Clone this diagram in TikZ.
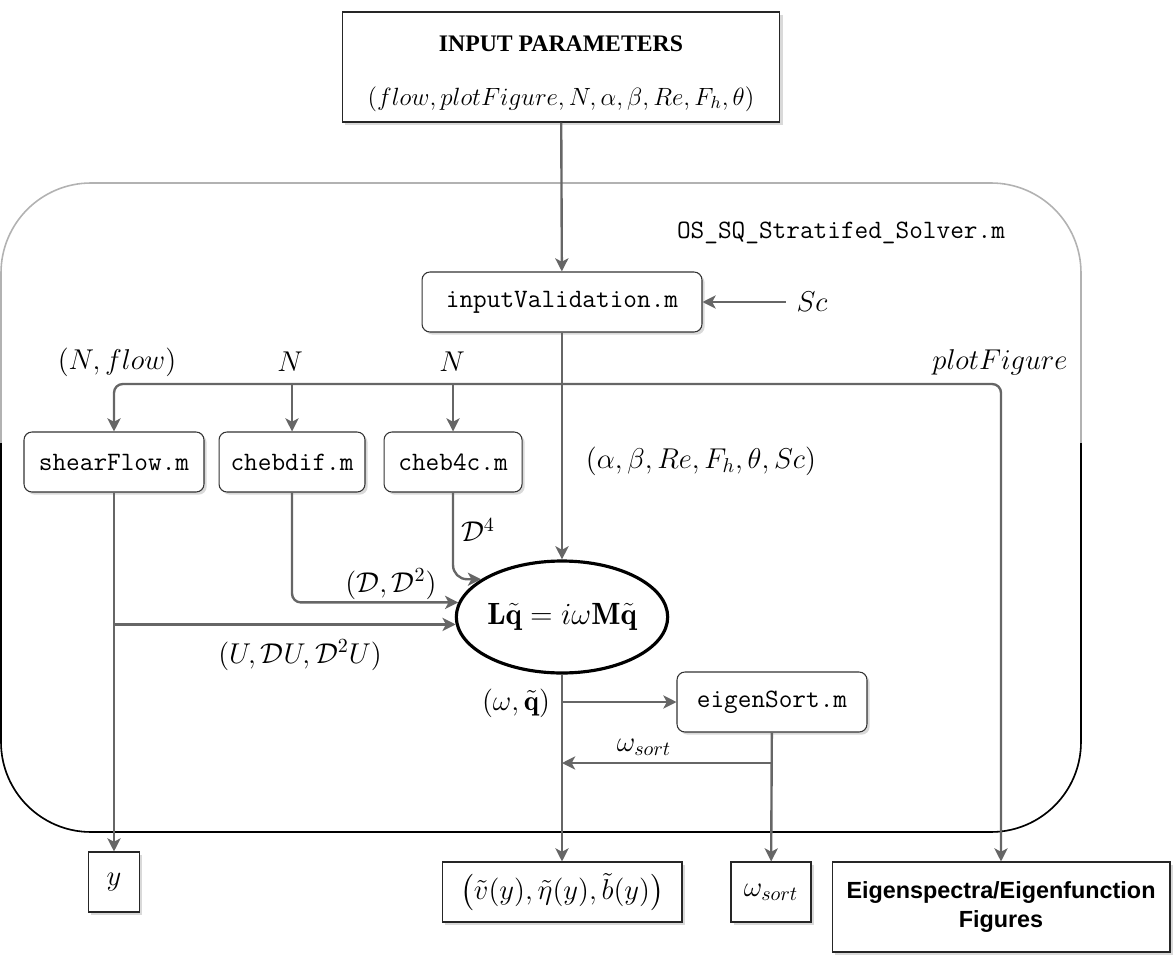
\documentclass[tikz,border=0pt]{standalone}
\usepackage{fix-cm}
\usepackage{amsmath}
\usepackage{fontspec}
\newfontfamily\titlefont{Liberation Serif}
\newfontfamily\figfont{Liberation Sans}
\usetikzlibrary{arrows.meta}
\usetikzlibrary{positioning}
\usetikzlibrary{shapes.geometric}
\usetikzlibrary{shadows}

\newcommand{\mfont}{\fontsize{16.3}{19}\selectfont}

\begin{document}
\begin{tikzpicture}
  [x=0.02cm,y=-0.02cm,
   >={Stealth[length=7.5pt,width=7.5pt,inset=2pt]},
   box shadow/.style={drop shadow={shadow xshift=1.5pt,shadow yshift=-1.5pt,opacity=0.3}},
   file node/.style={rectangle,rounded corners=4.5pt,draw=black!80,fill=white,line width=0.6pt,box shadow,minimum height=1.2cm,inner sep=0pt,font=\ttfamily\fontsize{15.1}{18}\selectfont},
   out node/.style={rectangle,draw=black!85,fill=white,line width=0.6pt,box shadow,minimum height=1.2cm,inner sep=0pt,font=\mfont},
   eq node/.style={ellipse,draw,line width=1.8pt,fill=white,minimum width=4.2cm,minimum height=2.24cm,inner sep=0pt,font=\fontsize{17.5}{20}\selectfont},
   flow line/.style={->,draw=black!60,line width=1.35pt},
   arg label/.style={font=\mfont,inner sep=1pt}]
  \useasboundingbox (0,0) rectangle (1174,957);

  % solver frame, grey on top and black below
  \draw[black!30,line width=0.9pt,rounded corners=1.8cm] (1,183) rectangle (1081,832);
  \begin{scope}
    \clip (-10,443) rectangle (1100,860);
    \draw[black,line width=0.9pt,rounded corners=1.8cm] (1,183) rectangle (1081,832);
  \end{scope}

  \node[out node,minimum width=8.76cm,minimum height=2.2cm,align=center] (input) at (561,67)
    {\rule{0pt}{16.3pt}{\titlefont\bfseries\fontsize{13.5}{16}\selectfont INPUT PARAMETERS}\\[11.7pt]
     {\fontsize{14.2}{17}\selectfont$(flow, plotFigure, N, \alpha, \beta, Re, F_h, \theta)$}};
  \node[font=\ttfamily\fontsize{15.1}{18}\selectfont] (solverName) at (841,233) {OS\_SQ\_Stratifed\_Solver.m};
  \node[file node,minimum width=5.6cm] (inputValidation) at (562,302) {inputValidation.m};
  \node[arg label,inner sep=6pt] (Sc) at (812,302) {$Sc$};

  \node[file node,minimum width=3.6cm] (shearFlow) at (114,462) {shearFlow.m};
  \node[file node,minimum width=2.92cm] (chebdif) [right=0.28cm of shearFlow] {chebdif.m};
  \node[file node,minimum width=2.76cm] (cheb4c) [right=0.36cm of chebdif] {cheb4c.m};

  \node[eq node] (evp) at (562,617) {$\mathbf{L}\tilde{\mathbf{q}} = i\omega\mathbf{M}\tilde{\mathbf{q}}$};
  \node[file node,minimum width=3.8cm] (eigenSort) at (772,702) {eigenSort.m};

  \node[out node,minimum width=1.02cm] (yOut) at (114,882) {$y$};
  \node[out node,minimum width=4.8cm] (fieldOut) at (562,892) {$\left(\tilde{v}(y), \tilde{\eta}(y), \tilde{b}(y)\right)$};
  \node[out node,minimum width=1.6cm] (sortOut) at (771,892) {$\omega_{sort}$};
  \node[out node,minimum width=6.76cm,minimum height=1.8cm,align=center,font=\figfont\bfseries\fontsize{13.3}{16}\selectfont] (figures) at (1001,907) {Eigenspectra/Eigenfunction\\Figures};

  % labels on the connectors
  \node[arg label] (lblNflow) at (117,362) {$(N, flow)$};
  \node[arg label] (lblN1) at (290,362) {$N$};
  \node[arg label] (lblN2) at (452,362) {$N$};
  \node[arg label] (lblPlot) at (1000,362) {$plotFigure$};
  \node[arg label] (lblParams) at (701,461) {$(\alpha, \beta, Re, F_h, \theta, Sc)$};
  \node[arg label] (lblD4) at (478,530) {$\mathcal{D}^4$};
  \node[arg label] (lblD) at (391,584) {$(\mathcal{D}, \mathcal{D}^2)$};
  \node[arg label] (lblU) at (300,655) {$(U, \mathcal{D}U, \mathcal{D}^2U)$};
  \node[arg label] (lblQ) at (516,703) {$(\omega, \tilde{\mathbf{q}})$};
  \node[arg label] (lblSort) at (644,747) {$\omega_{sort}$};

  % connectors
  \coordinate (busTap) at (inputValidation.south |- 0,384);
  \coordinate (sortTap) at (eigenSort.south |- 0,763);
  \draw[flow line] (input) -- (inputValidation);
  \draw[flow line] (Sc) -- (inputValidation);
  \draw[flow line] (inputValidation) -- (evp);
  \draw[flow line,rounded corners=5pt] (busTap) -| (shearFlow);
  \draw[flow line,rounded corners=5pt] (busTap) -| (figures);
  \draw[flow line] (chebdif.north |- busTap) -- (chebdif);
  \draw[flow line] (cheb4c.north |- busTap) -- (cheb4c);
  \draw[flow line,rounded corners=8pt] (cheb4c) |- (evp.155);
  \draw[flow line,rounded corners=5pt] (chebdif) |- (evp.172);
  \draw[flow line] (shearFlow.south |- evp.184) -- (evp.184);
  \draw[flow line] (shearFlow) -- (yOut);
  \draw[flow line] (evp) -- (fieldOut);
  \draw[flow line] (evp.south |- eigenSort.west) -- (eigenSort);
  \draw[flow line] (eigenSort) -- (sortOut);
  \draw[flow line] (sortTap) -- (evp.south |- sortTap);
\end{tikzpicture}
\end{document}
